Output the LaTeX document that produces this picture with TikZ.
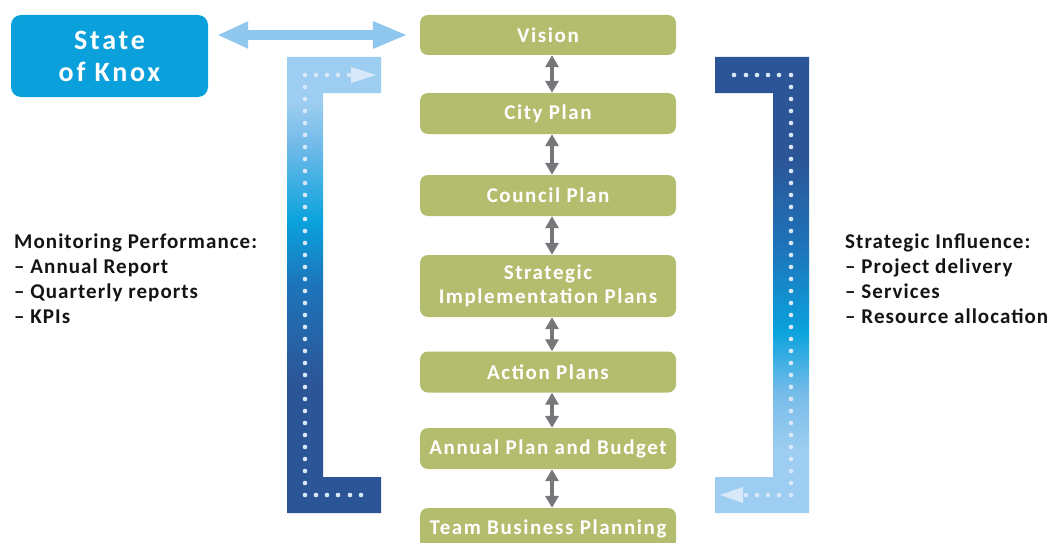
\documentclass[tikz,border=0pt]{standalone}
\usepackage{fontspec}
\setmainfont{Carlito}[LetterSpace=5]
\newfontfamily\knoxfont{Carlito}[LetterSpace=10]
\newfontfamily\planfont{Carlito}[LetterSpace=7.5]
\usetikzlibrary{arrows.meta,calc}
\definecolor{plangreen}{HTML}{B4BC6E}
\definecolor{knoxblue}{HTML}{0AA0DC}
\definecolor{paleblue}{HTML}{8FC7EE}
\definecolor{blight}{HTML}{9DCDF0}
\definecolor{blight2}{HTML}{78BDEA}
\definecolor{bcyan}{HTML}{0AA2DD}
\definecolor{bmid}{HTML}{1E74BA}
\definecolor{bdark}{HTML}{2C5597}
\definecolor{dotc}{HTML}{D8E8F8}
\definecolor{arrowgray}{HTML}{77777B}
\definecolor{txtdark}{HTML}{141414}
\pgfdeclareverticalshading{leftgrad}{100bp}{color(0bp)=(bdark); color(39bp)=(bdark); color(50bp)=(bmid); color(57bp)=(bcyan); color(66bp)=(blight2); color(70bp)=(blight); color(100bp)=(blight)}
\pgfdeclareverticalshading{rightgrad}{100bp}{color(0bp)=(blight); color(32bp)=(blight); color(38bp)=(blight2); color(45bp)=(bcyan); color(54bp)=(bmid); color(64bp)=(bdark); color(100bp)=(bdark)}
\tikzset{
  planbox/.style={rectangle, rounded corners=8pt, fill=plangreen, minimum width=256pt, minimum height=41pt, inner sep=0pt, text=white, font=\planfont\bfseries\fontsize{21}{24}\selectfont, align=center},
  knoxbox/.style={rectangle, rounded corners=10pt, fill=knoxblue, minimum width=197pt, minimum height=82pt, inner sep=0pt, text=white, font=\knoxfont\bfseries\fontsize{28}{32}\selectfont, align=center},
  grayarrow/.style={draw=arrowgray, line width=3.5pt, {Triangle[length=12pt,width=13pt]}-{Triangle[length=12pt,width=13pt]}},
  bigarrow/.style={draw=paleblue, line width=10pt, {Triangle[length=31pt,width=25pt]}-{Triangle[length=35pt,width=25pt]}},
  sidetext/.style={inner sep=0pt, text=txtdark, font=\bfseries\fontsize{21}{25}\selectfont, align=left},
  dot/.style={fill=dotc},
}
\begin{document}
\begin{tikzpicture}[x=1pt,y=-1pt]
\useasboundingbox[fill=white] (0,0) rectangle (1054,543);
% brackets
\shade[shading=leftgrad] (287,57) -- (381,57) -- (381,93) -- (323,93) -- (323,477) -- (381,477) -- (381,513) -- (287,513) -- cycle;
\shade[shading=rightgrad] (715,57) -- (809,57) -- (809,513) -- (715,513) -- (715,477) -- (773,477) -- (773,93) -- (715,93) -- cycle;
% left dots
\foreach \k in {0,...,35} \fill[dot] (305,75+12*\k) circle (2.3);
\foreach \x in {316,327,338,349} \fill[dot] (\x,75) circle (2.3);
\foreach \x in {316,327,338,350,361} \fill[dot] (\x,495) circle (2.3);
\fill[dot] (351,67) -- (376,75) -- (351,83) -- cycle;
% right dots
\foreach \k in {0,...,35} \fill[dot] (791,75+12*\k) circle (2.3);
\foreach \x in {734,746,757,768,779} \fill[dot] (\x,75) circle (2.3);
\foreach \x in {779,768,757,746} \fill[dot] (\x,495) circle (2.3);
\fill[dot] (743,487) -- (720,495) -- (743,503) -- cycle;
% nodes
\node[knoxbox] (knox) at (109.5,56) {State\\of Knox};
\node[planbox, minimum height=40pt] (vision) at (548,35) {Vision};
\node[planbox] (city) at (548,113.5) {City Plan};
\node[planbox] (council) at (548,195.5) {Council Plan};
\node[planbox, minimum height=62pt] (sip) at (548,286) {Strategic\\Implementation Plans};
\node[planbox] (action) at (548,372) {Action Plans};
\node[planbox] (annual) at (548,448.5) {Annual Plan and Budget};
\node[planbox] (team) at (548,528.5) {Team Business Planning};
% connectors
\draw[bigarrow] ($(knox.east |- vision.west)+(9,0)$) -- ($(vision.west)+(-12,0)$);
\foreach \a/\b in {vision/city, city/council, council/sip, sip/action, action/annual, annual/team}
  \draw[grayarrow] ([xshift=4pt]\a.south) -- ([xshift=4pt]\b.north);
% side texts
\node[sidetext, anchor=base west] (mon) at (14,323) {Monitoring Performance:\\– Annual Report\\– Quarterly reports\\– KPIs};
\node[sidetext, anchor=base west] (inf) at (845,323) {Strategic Influence:\\– Project delivery\\– Services\\– Resource allocation};
\end{tikzpicture}
\end{document}
